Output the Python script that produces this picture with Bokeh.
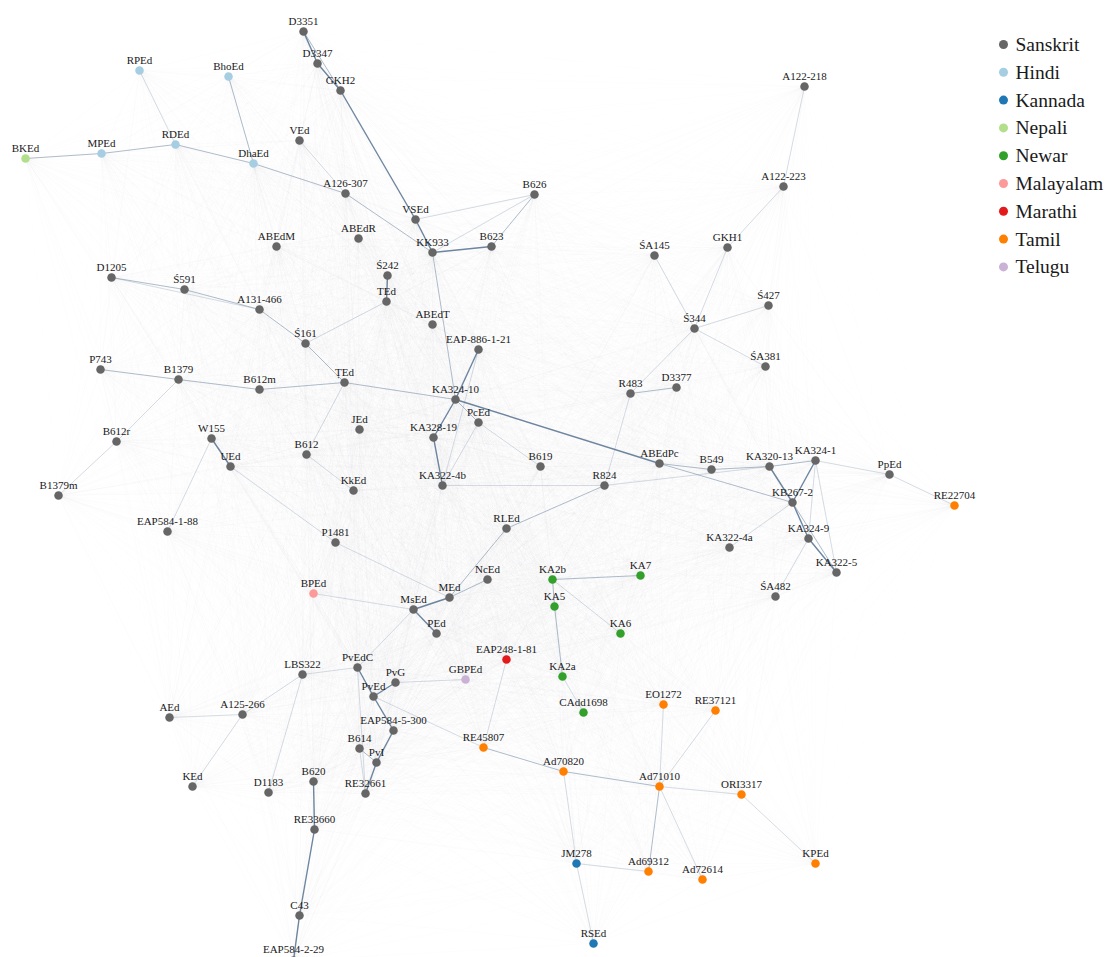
from bokeh.plotting import figure
from bokeh.models import Range1d
from bokeh.embed import file_html
from bokeh.resources import INLINE
from bokeh.core.properties import value
import itertools
import math

# ---------------- data ----------------
names = ["D3351", "D3347", "GKH2", "RPEd", "BhoEd", "VEd", "RDEd", "MPEd", "BKEd", "DhaEd",
         "A126-307", "B626", "VSEd", "A122-218", "A122-223", "ABEdM", "ABEdR", "KK933", "B623", "Ś242",
         "TEd", "D1205", "Ś591", "A131-466", "Ś161", "ABEdT", "EAP-886-1-21", "P743", "B1379", "B612m",
         "ṬEd", "KA324-10", "PcEd", "KA328-19", "JEd", "B612r", "W155", "UEd", "B612", "KkEd",
         "KA322-4b", "B619", "ŚA145", "GKH1", "Ś344", "Ś427", "ŚA381", "R483", "D3377", "ABEdPc",
         "B549", "R824", "KA320-13", "KA324-1", "PpEd", "RE22704", "KB267-2", "KA324-9", "KA322-5", "KA322-4a",
         "ŚA482", "B1379m", "EAP584-1-88", "P1481", "BPEd", "RLEd", "NcEd", "MEd", "MsEd", "PEd",
         "KA2b", "KA7", "KA5", "KA6", "EAP248-1-81", "KA2a", "GBPEd", "CAdd1698", "EO1272", "RE37121",
         "LBS322", "PvEdC", "PvG", "PvEd", "EAP584-5-300", "B614", "PvI", "AEd", "A125-266", "KEd",
         "D1183", "B620", "RE32661", "RE33660", "C43", "EAP584-2-29", "RE45807", "Ad70820", "Ad71010", "ORI3317",
         "JM278", "Ad69312", "Ad72614", "RSEd", "KPEd"]
xs = [303, 317, 340, 139, 228, 299, 175, 101, 25, 253,
      345, 534, 415, 804, 783, 276, 358, 432, 491, 387,
      386, 111, 184, 259, 305, 432, 478, 100, 178, 259,
      344, 455, 478, 433, 359, 116, 211, 230, 306, 353,
      442, 540, 654, 727, 694, 768, 765, 630, 676, 659,
      711, 604, 769, 815, 889, 954, 792, 808, 836, 729,
      775, 58, 167, 335, 313, 506, 487, 449, 413, 436,
      552, 640, 554, 620, 506, 562, 465, 583, 663, 715,
      302, 357, 395, 373, 393, 359, 376, 169, 242, 192,
      268, 313, 365, 314, 299, 293, 483, 563, 659, 741,
      576, 648, 702, 593, 815]
ys = [31, 63, 90, 70, 76, 140, 144, 153, 158, 163,
      193, 194, 219, 86, 186, 246, 238, 252, 246, 275,
      301, 277, 289, 309, 343, 324, 349, 369, 379, 389,
      382, 399, 422, 437, 429, 441, 438, 466, 454, 490,
      485, 466, 255, 247, 328, 305, 366, 393, 387, 463,
      469, 485, 466, 460, 474, 505, 502, 538, 572, 547,
      596, 495, 531, 542, 593, 528, 579, 597, 609, 633,
      579, 575, 606, 633, 659, 676, 679, 712, 704, 710,
      674, 667, 682, 696, 730, 748, 762, 717, 714, 786,
      792, 781, 793, 829, 915, 960, 747, 771, 786, 794,
      863, 871, 879, 943, 863]
special_lang = {
    "RPEd": "Hindi", "BhoEd": "Hindi", "MPEd": "Hindi", "RDEd": "Hindi", "DhaEd": "Hindi",
    "BKEd": "Nepali",
    "JM278": "Kannada", "RSEd": "Kannada",
    "KA2b": "Newar", "KA7": "Newar", "KA5": "Newar", "KA6": "Newar", "KA2a": "Newar", "CAdd1698": "Newar",
    "BPEd": "Malayalam",
    "EAP248-1-81": "Marathi",
    "RE22704": "Tamil", "EO1272": "Tamil", "RE37121": "Tamil", "RE45807": "Tamil", "Ad70820": "Tamil",
    "Ad71010": "Tamil", "ORI3317": "Tamil", "Ad69312": "Tamil", "Ad72614": "Tamil", "KPEd": "Tamil",
    "GBPEd": "Telugu",
}
langs = [special_lang.get(n, "Sanskrit") for n in names]

languages = ["Sanskrit", "Hindi", "Kannada", "Nepali", "Newar", "Malayalam", "Marathi", "Tamil", "Telugu"]
lang_colors = ["#666666", "#a6cee3", "#1f78b4", "#b2df8a", "#33a02c", "#fb9a99", "#e31a1c", "#ff7f00", "#cab2d6"]

strong_edges = [("D3351", "D3347"), ("D3347", "GKH2"), ("GKH2", "VSEd"), ("VSEd", "KK933"), ("KK933", "B623"),
                ("EAP-886-1-21", "KA324-10"), ("KA324-10", "KA328-19"), ("KA328-19", "KA322-4b"),
                ("KA324-10", "ABEdPc"), ("KA320-13", "KB267-2"), ("KA324-1", "KB267-2"), ("KA324-9", "KA322-5"),
                ("KB267-2", "KA324-9"), ("PvEdC", "PvEd"), ("PvEd", "EAP584-5-300"), ("EAP584-5-300", "PvI"),
                ("PvI", "RE32661"), ("B620", "RE33660"), ("RE33660", "C43"), ("C43", "EAP584-2-29"),
                ("MsEd", "MEd"), ("MsEd", "PEd"), ("PvEd", "PvG"), ("W155", "UEd"), ("Ś242", "TEd")]
medium_edges = [("D3351", "GKH2"), ("B623", "B626"), ("KK933", "KA324-10"), ("ṬEd", "KA324-10"),
                ("P743", "B1379"), ("B1379", "B612m"), ("B612m", "ṬEd"), ("D1205", "Ś591"), ("Ś591", "A131-466"),
                ("A131-466", "Ś161"), ("Ś161", "ṬEd"), ("RDEd", "DhaEd"), ("DhaEd", "A126-307"),
                ("A126-307", "KK933"), ("BhoEd", "DhaEd"), ("MPEd", "RDEd"), ("BKEd", "MPEd"), ("MEd", "NcEd"),
                ("MEd", "RLEd"), ("RLEd", "R824"), ("ABEdPc", "KB267-2"), ("KA320-13", "KA324-1"),
                ("KB267-2", "KA322-5"), ("KA2b", "KA7"), ("KA2b", "KA5"), ("KA5", "KA2a"),
                ("RE45807", "Ad70820"), ("Ad70820", "Ad71010"), ("Ad71010", "Ad69312"), ("B614", "PvI"),
                ("KA324-10", "PcEd"), ("R483", "D3377"), ("B549", "KA320-13"), ("ABEdPc", "B549")]
light_edges = [("VSEd", "B626"), ("KK933", "B626"), ("ṬEd", "B612"), ("B612", "KkEd"), ("B1379", "B612r"),
               ("B612r", "B1379m"), ("W155", "EAP584-1-88"), ("UEd", "P1481"), ("P1481", "MEd"), ("R824", "R483"),
               ("R483", "Ś344"), ("Ś344", "ŚA145"), ("Ś344", "GKH1"), ("Ś344", "Ś427"), ("Ś344", "ŚA381"),
               ("A122-223", "GKH1"), ("A122-218", "A122-223"), ("VEd", "A126-307"), ("RPEd", "RDEd"),
               ("KA2b", "KA6"), ("KA2a", "CAdd1698"), ("KA324-1", "KA322-5"), ("KA324-1", "PpEd"),
               ("PpEd", "RE22704"), ("KA324-9", "ŚA482"), ("KA324-1", "KA324-9"), ("PvG", "GBPEd"),
               ("LBS322", "PvEdC"), ("LBS322", "D1183"), ("A125-266", "LBS322"), ("AEd", "A125-266"),
               ("A125-266", "KEd"), ("MsEd", "PvEdC"), ("MsEd", "BPEd"), ("PvEd", "RE45807"),
               ("Ad71010", "ORI3317"), ("ORI3317", "KPEd"), ("Ad71010", "Ad72614"), ("Ad71010", "RE37121"),
               ("Ad71010", "EO1272"), ("Ad70820", "JM278"), ("JM278", "RSEd"), ("JM278", "Ad69312"),
               ("EAP248-1-81", "RE45807"), ("KA322-4b", "R824"), ("PcEd", "B619"), ("PcEd", "KA322-4b"),
               ("Ś161", "TEd"), ("R824", "KA320-13"), ("D1205", "A131-466"), ("B614", "RE32661"),
               ("PvEdC", "RE32661"), ("KA322-4a", "KB267-2"), ("EAP-886-1-21", "KA322-4b")]

# ---------------- figure ----------------
W, H = 1109, 957
p = figure(width=W, height=H, x_range=Range1d(0, W), y_range=Range1d(H, 0),
           x_axis_type=None, y_axis_type=None, toolbar_location=None, output_backend="svg",
           min_border=0, outline_line_color=None, background_fill_color="white")
p.grid.visible = False

pos = {n: (x, y) for n, x, y in zip(names, xs, ys)}

# faint background mesh (all pairs), fading with length
mx0, my0, mx1, my1, ma = [], [], [], [], []
for a, b in itertools.combinations(names, 2):
    (xa, ya), (xb, yb) = pos[a], pos[b]
    d = math.hypot(xb - xa, yb - ya)
    mx0.append(xa); my0.append(ya); mx1.append(xb); my1.append(yb)
    ma.append(0.085 * math.exp(-d / 380.0))
p.segment(mx0, my0, mx1, my1, line_color="#a4abb3", line_alpha=ma, line_width=0.5)


def draw_edges(edges, color, alpha, width):
    x0 = [pos[a][0] for a, b in edges]
    y0 = [pos[a][1] for a, b in edges]
    x1 = [pos[b][0] for a, b in edges]
    y1 = [pos[b][1] for a, b in edges]
    p.segment(x0, y0, x1, y1, line_color=color, line_alpha=alpha, line_width=width)


draw_edges(light_edges, "#8ea2b5", 0.45, 0.8)
draw_edges(medium_edges, "#6f89a3", 0.55, 1.0)
draw_edges(strong_edges, "#4a6888", 0.8, 1.4)

cmap = dict(zip(languages, lang_colors))
p.scatter(xs, ys, size=8.5, fill_color=[cmap[l] for l in langs], line_color=None)

label_y = [min(y - 11, 948) for y in ys]
p.text(xs, label_y, text=names, text_font=value("Liberation Serif"),
       text_font_size="11px", text_color="#1a1a1a", text_align="center", text_baseline="middle")

# legend
leg_y = [44 + 27.8 * i for i in range(len(languages))]
p.scatter([1003] * len(languages), leg_y, size=9, fill_color=lang_colors, line_color=None)
p.text([1015] * len(languages), leg_y, text=languages, text_font=value("Liberation Serif"),
       text_font_size="19.5px", text_color="#1a1a1a", text_align="left", text_baseline="middle")

open("out.html", "w").write(file_html(p, INLINE))
